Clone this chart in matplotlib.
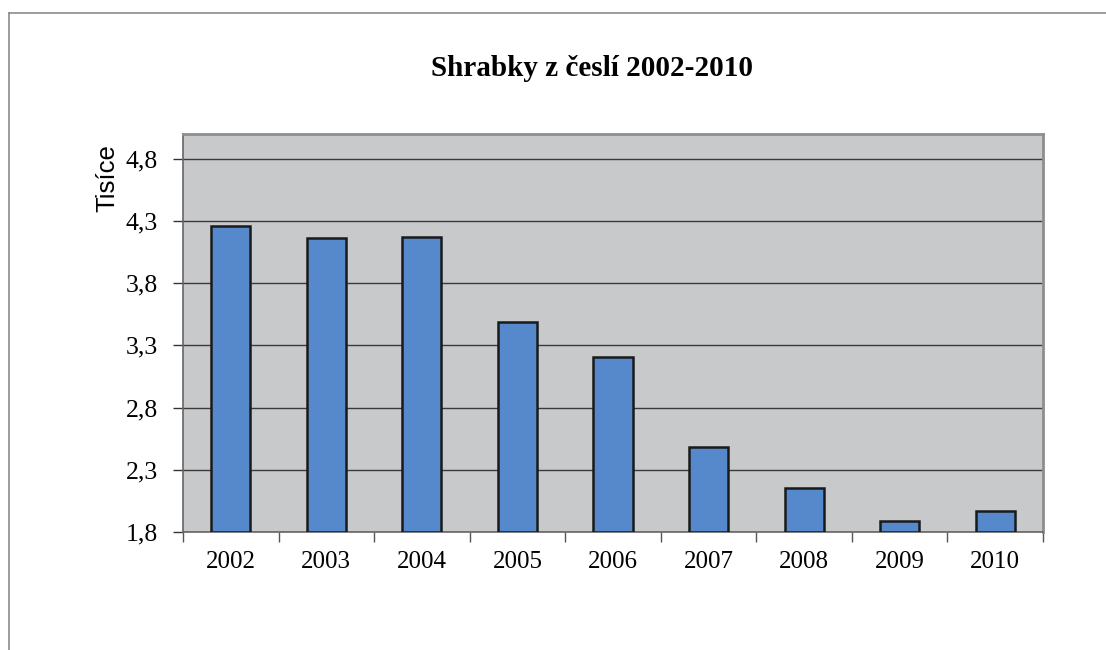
import matplotlib
matplotlib.use('Agg')
import matplotlib.pyplot as plt
from matplotlib.lines import Line2D
import numpy as np

# data (values in thousands)
years = ['2002', '2003', '2004', '2005', '2006', '2007', '2008', '2009', '2010']
shrabky = [4.26, 4.16, 4.17, 3.49, 3.21, 2.48, 2.15, 1.89, 1.97]
yticks = [1.8, 2.3, 2.8, 3.3, 3.8, 4.3, 4.8]
ytick_labels = ['1,8', '2,3', '2,8', '3,3', '3,8', '4,3', '4,8']

serif = 'Liberation Serif'
sans = 'Liberation Sans'

fig = plt.figure(figsize=(11.06, 6.5), dpi=100)
ax = fig.add_axes([183/1106, 1 - 532/650, 860/1106, 398/650])

# outer chart frame (only top and left visible in the crop)
fig.add_artist(Line2D([9/1106, 9/1106], [0, 1 - 13/650], transform=fig.transFigure,
                      color='#8a8a8a', lw=1.2))
fig.add_artist(Line2D([9/1106, 1], [1 - 13/650, 1 - 13/650], transform=fig.transFigure,
                      color='#8a8a8a', lw=1.2))

x = np.arange(len(years))
ax.set_facecolor('#c8c9cb')
ax.bar(x, np.array(shrabky) - 1.8, bottom=1.8, width=0.41, color='#5589cb',
       edgecolor='#1a1a1a', linewidth=1.8, zorder=3)

ax.set_xlim(-0.5, len(years) - 0.5)
ax.set_ylim(1.8, 5.0)
ax.set_yticks(yticks)
ax.set_yticklabels(ytick_labels, fontfamily=serif, fontsize=18.5)
ax.yaxis.grid(True, color='#3a3a3a', lw=1.0, zorder=1)
ax.set_axisbelow(True)

ax.set_xticks(np.arange(len(years) + 1) - 0.5)
ax.set_xticklabels([])
ax.set_xticks(x, minor=True)
ax.set_xticklabels(years, minor=True, fontfamily=serif, fontsize=18)
ax.tick_params(axis='x', which='minor', length=0, pad=14)
ax.tick_params(axis='x', which='major', length=7, color='#555555', width=1)
ax.tick_params(axis='y', length=7, color='#333333', width=1, pad=11)

for s in ['top', 'right']:
    ax.spines[s].set_color('#8e8e8e')
    ax.spines[s].set_linewidth(2)
for s in ['left', 'bottom']:
    ax.spines[s].set_color('#666666')
    ax.spines[s].set_linewidth(1.2)

ax.set_ylabel('Tisíce', fontfamily=sans, fontsize=18.5)
ax.yaxis.set_label_coords(-0.074, 0.89)

fig.text(592/1106, 1 - 68/650, 'Shrabky z česlí 2002-2010', ha='center', va='center',
         fontfamily=serif, fontsize=21, fontweight='bold')

fig.savefig('out.png', dpi=100)
